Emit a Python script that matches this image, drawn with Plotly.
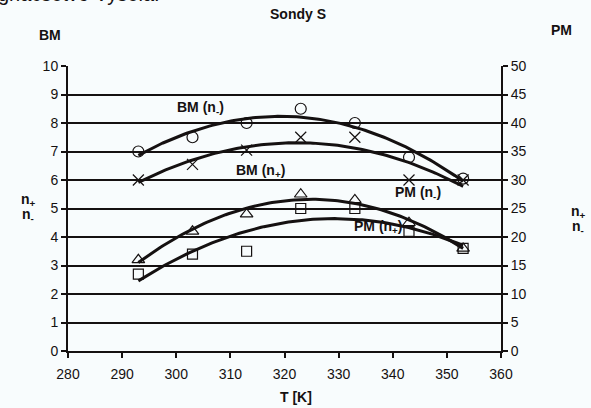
import numpy as np
import plotly.graph_objects as go

T = [293, 303, 313, 323, 333, 343, 353]
bm_nminus = [7.0, 7.5, 8.0, 8.5, 8.0, 6.8, 6.05]
bm_nplus = [6.0, 6.55, 7.05, 7.5, 7.5, 6.0, 6.0]
pm_nminus = [16.0, 21.0, 24.0, 27.5, 26.5, 22.5, 18.0]
pm_nplus = [13.5, 17.0, 17.5, 25.0, 25.0, 21.0, 18.0]

x_ticks = [280, 290, 300, 310, 320, 330, 340, 350, 360]
left_ticks = list(range(0, 11))
right_ticks = list(range(0, 51, 5))

ink = "#151111"
fig = go.Figure()

xs = np.linspace(min(T), max(T), 120)

def trend(vals, yaxis):
    c = np.polyfit(T, vals, 2)
    fig.add_trace(go.Scatter(x=xs, y=np.polyval(c, xs), mode="lines",
                             line=dict(color=ink, width=3), yaxis=yaxis,
                             showlegend=False, hoverinfo="skip"))

def pts(vals, symbol, yaxis, size=10):
    fig.add_trace(go.Scatter(x=T, y=vals, mode="markers", yaxis=yaxis,
                             marker=dict(symbol=symbol, size=size, color=ink,
                                         line=dict(color=ink, width=1.2)),
                             showlegend=False))

trend(bm_nminus, "y")
trend(bm_nplus, "y")
trend(pm_nminus, "y2")
trend(pm_nplus, "y2")
pts(bm_nminus, "circle-open", "y", 11)
pts(bm_nplus, "x-thin-open", "y", 11)
pts(pm_nminus, "triangle-up-open", "y2", 11)
pts(pm_nplus, "square-open", "y2", 10)

font = "Liberation Sans, Arial, sans-serif"
ann = []
def lab(x, y, t):
    ann.append(dict(x=x, y=y, xref="x", yref="y", text=t, showarrow=False,
                    font=dict(family=font, size=14, color=ink)))
lab(304.4, 8.53, "<b>BM (n<sub>-</sub>)</b>")
lab(315.5, 6.3, "<b>BM (n<sub>+</sub>)</b>")
lab(344.7, 5.55, "<b>PM (n<sub>-</sub>)</b>")
lab(337.3, 4.35, "<b>PM (n<sub>+</sub>)</b>")

def ptxt(x, y, t, size=14, anchor="center"):
    ann.append(dict(x=x, y=y, xref="paper", yref="paper", text=t, showarrow=False,
                    xanchor=anchor, yanchor="middle",
                    font=dict(family=font, size=size, color=ink)))

# paper coords helpers: plot area l=68..501, t=66..351
def px(xp):
    return (xp - 68) / (501 - 68)
def py(yp):
    return (351 - yp) / (351 - 66)

ptxt(px(298), py(14), "<b>Sondy S</b>", 14)
ptxt(px(50), py(35), "<b>BM</b>", 14)
ptxt(px(561), py(30), "<b>PM</b>", 14)
ptxt(px(296), py(397), "<b>T [K]</b>", 14)
ptxt(px(28), py(200), "<b>n<sub>+</sub></b>", 14)
ptxt(px(28), py(215), "<b>n<sub>-</sub></b>", 14)
ptxt(px(578), py(212), "<b>n<sub>+</sub></b>", 14)
ptxt(px(578), py(227), "<b>n<sub>-</sub></b>", 14)
ptxt(px(-4), py(-6), "gnacsetvo Vysela.", 20, "left")

tick_font = dict(family=font, size=14, color=ink)
fig.update_layout(
    width=591, height=408,
    margin=dict(l=68, r=90, t=66, b=57),
    paper_bgcolor="#f8fcfd", plot_bgcolor="#f8fcfd",
    font=dict(family=font, size=14, color=ink),
    annotations=ann,
    xaxis=dict(range=[280, 360], tickvals=x_ticks, showgrid=False, zeroline=False,
               showline=True, linecolor=ink, linewidth=2, ticks="outside",
               ticklen=5, tickwidth=2, tickcolor=ink, tickfont=tick_font,
               ticklabelstandoff=4, fixedrange=True),
    yaxis=dict(range=[0, 10], tickvals=left_ticks, showgrid=True, gridcolor=ink,
               gridwidth=1.6, zeroline=False, showline=True, linecolor=ink,
               linewidth=2, ticks="outside", ticklen=5, tickwidth=2, tickcolor=ink,
               tickfont=tick_font),
    yaxis2=dict(range=[0, 50], tickvals=right_ticks, overlaying="y", side="right",
                showgrid=False, zeroline=False, showline=True, linecolor=ink,
                linewidth=2, ticks="outside", ticklen=5, tickwidth=2, tickcolor=ink,
                tickfont=tick_font),
)

fig.write_html("out.html")
